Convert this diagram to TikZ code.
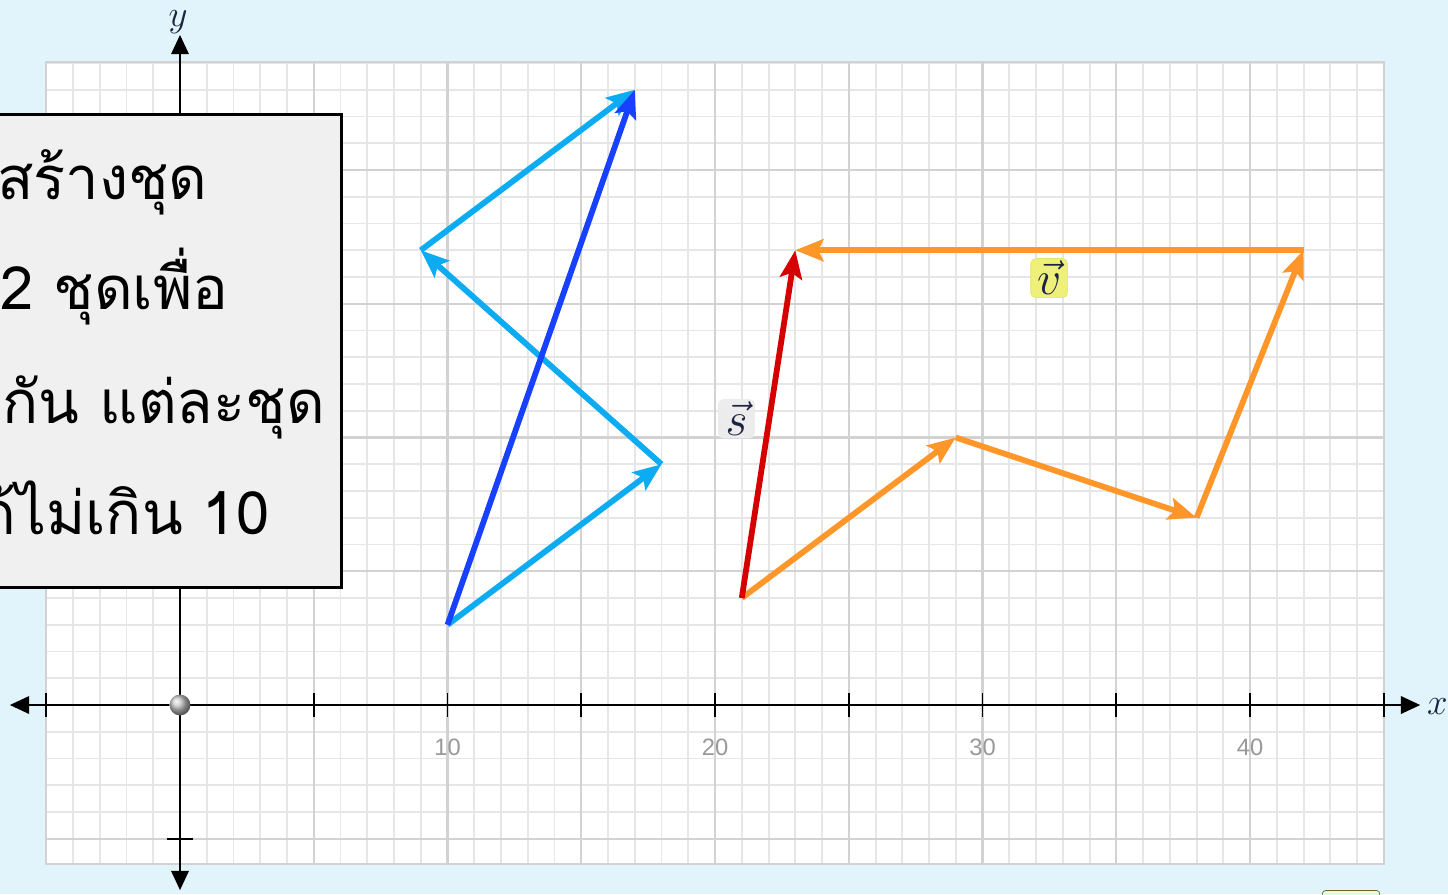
\RequirePackage{fix-cm}
\documentclass[tikz,border=0pt]{standalone}
\usepackage{fontspec}
\usepackage{amsmath}
\newfontfamily\thaifont[Script=Thai]{Loma}
\newfontfamily\ticklabelfont{Liberation Sans}
\usetikzlibrary{arrows.meta}

\definecolor{pagebg}{HTML}{E1F4FC}
\definecolor{minorgrid}{HTML}{E6E6E6}
\definecolor{majorgrid}{HTML}{D2D2D2}
\definecolor{vecdark}{HTML}{1740FF}
\definecolor{veclight}{HTML}{0CABF2}
\definecolor{vecred}{HTML}{D60000}
\definecolor{vecorange}{HTML}{FF962A}
\definecolor{boxgray}{HTML}{F0F0F0}
\definecolor{taggray}{HTML}{ECECEC}
\definecolor{tagyellow}{HTML}{EEF07A}
\definecolor{tagedge}{HTML}{E2E46A}
\definecolor{ticktext}{HTML}{999999}
\definecolor{axislabel}{HTML}{1C2340}

\begin{document}
\begin{tikzpicture}[x=0.535cm,y=0.535cm,
  vec/.style={line width=3.3pt,line join=round,
    -{Stealth[length=16pt,width=12.5pt,inset=3pt]}},
  axis/.style={line width=1.1pt,
    {Triangle[length=11pt,width=10pt]}-{Triangle[length=11pt,width=10pt]}},
  thaitext/.style={inner sep=0pt,font=\thaifont\fontsize{34}{40}\selectfont},
  tagbox/.style={rounded corners=3pt,inner sep=1.5pt,minimum width=21pt,
    minimum height=22pt,font=\fontsize{27}{30}\selectfont,text=axislabel}]
  \clip (-6.729,-7.065) rectangle (47.40,26.355);
  \fill[pagebg] (-6.729,-7.065) rectangle (47.40,26.355);

  % grid sheet
  \fill[white] (-5,-5.95) rectangle (45,24.05);
  \foreach \i in {-5,...,45} {
    \draw[minorgrid,line width=1.1pt] (\i,-5.95)--(\i,24.05);
  }
  \foreach \j in {-5,...,24} {
    \draw[minorgrid,line width=1.1pt] (-5,\j)--(45,\j);
  }
  \foreach \i in {-5,0,...,45} {
    \draw[majorgrid,line width=1.2pt] (\i,-5.95)--(\i,24.05);
  }
  \foreach \j in {-5,0,...,20} {
    \draw[majorgrid,line width=1.2pt] (-5,\j)--(45,\j);
  }
  \draw[majorgrid,line width=1.1pt] (-5,-5.95) rectangle (45,24.05);

  % axes
  \draw[axis] (-6.36,0)--(46.36,0);
  \draw[axis] (0,-6.92)--(0,25.05);
  \foreach \a in {-5,5,10,...,45} {
    \draw[line width=1pt] (\a,0.45)--(\a,-0.45);
  }
  \foreach \b in {-5,5,10,15,20} {
    \draw[line width=1pt] (0.5,\b)--(-0.5,\b);
  }
  \foreach \a in {10,20,30,40} {
    \node[text=ticktext,font=\ticklabelfont\fontsize{13.5}{16}\selectfont]
      (tick\a) at (\a,-1.57) {\a};
  }
  \node[text=axislabel,font=\fontsize{21}{24}\selectfont] (xlab) at (47.0,-0.05) {$x$};
  \node[text=axislabel,font=\fontsize{21}{24}\selectfont,anchor=base]
    (ylab) at (-0.07,25.35) {$y$};
  \shade[ball color=gray!45] (0,0) circle (0.39);

  % task box
  \draw[fill=boxgray,line width=1.7pt] (-7.5,4.41) rectangle (6.02,22.06);
  \node[thaitext,anchor=base east] (line1) at (1.05,18.88) {ดสร้างชุด};
  \node[thaitext,anchor=base west] (line2) at (-6.73,14.77) {2 ชุดเพื่อ};
  \node[thaitext,anchor=base west] (line3) at (-6.65,10.54) {กัน แต่ละชุด};
  \node[thaitext,anchor=base east] (line4) at (3.36,6.36) {ด้ไม่เกิน 10};

  % tip and tail points
  \coordinate (A) at (10,3);
  \coordinate (B) at (17,23);
  \coordinate (C) at (18,9);
  \coordinate (D) at (9,17);
  \coordinate (E) at (21,4);
  \coordinate (F) at (23,17);
  \coordinate (G) at (29,10);
  \coordinate (H) at (38,7);
  \coordinate (K) at (42,17);

  \draw[vec,veclight] (A)--(C);
  \draw[vec,veclight] (C)--(D);
  \draw[vec,veclight] (D)--(B);
  \draw[vec,vecdark] (A)--(B);

  \draw[vec,vecorange] (E)--(G);
  \draw[vec,vecorange] (G)--(H);
  \draw[vec,vecorange] (H)--(K);
  \draw[vec,vecorange] (K)--(F);
  \draw[vec,vecred] (E)--(F);

  \node[tagbox,fill=taggray] (slab) at (20.8,10.7) {$\vec{s}$};
  \node[tagbox,fill=tagyellow,draw=tagedge] (vlab) at (32.49,15.96) {$\vec{v}$};

  % corner button, mostly below the frame
  \draw[rounded corners=2pt,draw=olive!70!black,fill=green!12]
    (42.7,-6.93) rectangle (44.85,-8);
\end{tikzpicture}
\end{document}
